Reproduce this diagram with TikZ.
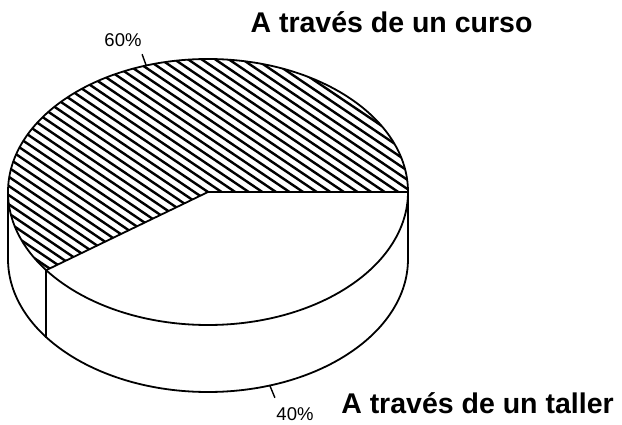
\documentclass[tikz,border=0pt]{standalone}
\usepackage{fontspec}
\setmainfont{Liberation Sans}
\usetikzlibrary{calc}
\tikzset{
  every picture/.style={line cap=round, line join=round},
  outline/.style={draw=black, line width=1.8pt},
  hatch/.style={draw=black, line width=2.4pt},
  leader/.style={draw=black, line width=1.4pt},
  pct/.style={font=\fontsize{18.5}{20}\selectfont, inner sep=0pt, anchor=base},
  caption/.style={font=\fontsize{28.5}{32}\selectfont\bfseries, inner sep=0pt, anchor=base}
}

\begin{document}
\begin{tikzpicture}[x=1pt, y=1pt]
  \useasboundingbox (0,0) rectangle (622,424);

  % Top face and base of the disc
  \coordinate (top) at (208,232);
  \coordinate (bot) at (208,165);
  \coordinate (rim) at (408,232);
  \coordinate (rimdown) at (408,165);
  \coordinate (west) at (8,232);
  \coordinate (westdown) at (8,165);
  \coordinate (cut) at ($(top)+(216:200pt and 133pt)$);
  \coordinate (cutdown) at ($(cut)+(0,-67pt)$);

  % Hatched slice (60%)
  \begin{scope}
    \clip (top) -- (rim) arc[start angle=0, end angle=216, x radius=200pt, y radius=133pt] -- cycle;
    \begin{scope}[shift={(top)}, rotate=-34]
      \foreach \k in {-42,...,42}
        \draw[hatch] (-300,\k*7.6) -- (300,\k*7.6);
    \end{scope}
  \end{scope}

  % Side wall
  \draw[outline] (west) -- (westdown)
    arc[start angle=180, end angle=360, x radius=200pt, y radius=133pt] -- (rim);
  \draw[outline] (cut) -- (cutdown);

  % Rim of the top face and slice edges
  \draw[outline] (top) ellipse[x radius=200pt, y radius=133pt];
  \draw[outline] (top) -- (rim);
  \draw[outline] (top) -- (cut);

  % Percentages
  \coordinate (p60) at ($(top)+(108:200pt and 133pt)$);
  \coordinate (q60) at ($(p60)+(-4pt,11pt)$);
  \node[pct] (n60) at (123,377) {60\%};
  \draw[leader] (p60) -- (q60);

  \coordinate (p40) at ($(bot)+(288:200pt and 133pt)$);
  \coordinate (q40) at ($(p40)+(5pt,-12pt)$);
  \node[pct] (n40) at (295,3.5) {40\%};
  \draw[leader] (p40) -- (q40);

  % Captions
  \node[caption] (curso) at (391.5,391) {A través de un curso};
  \node[caption] (taller) at (477.5,11) {A través de un taller};
\end{tikzpicture}
\end{document}
